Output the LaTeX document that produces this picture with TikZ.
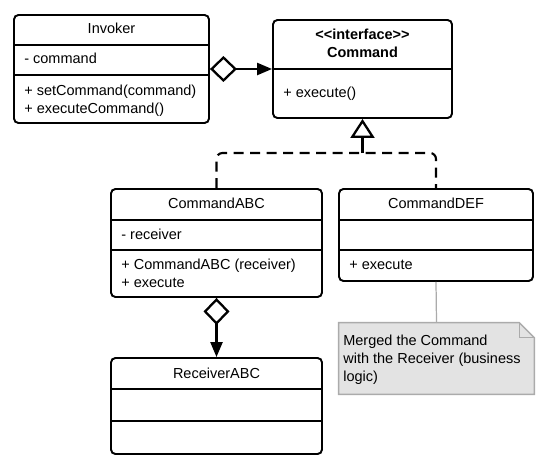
\documentclass[tikz,border=0pt]{standalone}
\usepackage{fontspec}
\setmainfont{Liberation Sans}
\usetikzlibrary{arrows.meta,calc}

\definecolor{notegray}{HTML}{E3E3E3}
\definecolor{noteedge}{HTML}{ABABAB}

\tikzset{
  umlbox/.style={draw,line width=1.1pt,rounded corners=2.5pt,inner sep=0pt},
  sepline/.style={line width=0.8pt},
  txt/.style={anchor=base west,inner sep=0pt},
  ttl/.style={anchor=base,inner sep=0pt},
  aggr/.style={line width=1.3pt,{Diamond[open,length=0.54cm,width=0.52cm]}-{Triangle[length=0.3cm,width=0.24cm]}},
  realize/.style={line width=1.2pt,dash pattern=on 0.2cm off 0.13cm,rounded corners=0.12cm},
  notebox/.style={fill=notegray,draw=noteedge,line width=0.8pt},
  noteline/.style={draw=noteedge,line width=0.7pt}
}

\begin{document}
\begin{tikzpicture}[x=0.02cm,y=-0.02cm,font=\fontsize{8.25}{10}\selectfont]
\useasboundingbox (0,0) rectangle (550,470);

% Invoker
\node[umlbox,minimum width=3.9cm,minimum height=2.16cm] (inv) at (111.5,69) {};
\draw[sepline] (inv.west |- 0,45) -- (inv.east |- 0,45)
(inv.west |- 0,75) -- (inv.east |- 0,75);
\node[ttl] (invT) at (111.5,33) {Invoker};
\node[txt] (invA) at (24,63) {- command};
\node[txt] (invM1) at (24,95) {+ setCommand(command)};
\node[txt] (invM2) at (24,113) {+ executeCommand()};

% Command interface
\node[umlbox,minimum width=3.58cm,minimum height=1.96cm] (cmd) at (362.5,69) {};
\draw[sepline] (cmd.west) -- (cmd.east);
\node[ttl,font=\fontsize{8.25}{10}\selectfont\bfseries] (cmdS) at (362.5,39) {{<}{<}interface{>}{>}};
\node[ttl,font=\fontsize{8.25}{10}\selectfont\bfseries] (cmdT) at (362.5,57) {Command};
\node[txt] (cmdM) at (283,97) {+ execute()};

% CommandABC
\node[umlbox,minimum width=4.22cm,minimum height=2.16cm] (abc) at (216.5,243) {};
\draw[sepline] (abc.west |- 0,220) -- (abc.east |- 0,220)
(abc.west |- 0,250) -- (abc.east |- 0,250);
\node[ttl] (abcT) at (216.5,208) {CommandABC};
\node[txt] (abcA) at (121,239) {- receiver};
\node[txt] (abcM1) at (121,269) {+ CommandABC (receiver)};
\node[txt] (abcM2) at (121,287) {+ execute};

% CommandDEF
\node[umlbox,minimum width=3.88cm,minimum height=1.84cm] (def) at (436,235) {};
\draw[sepline] (def.west |- 0,220) -- (def.east |- 0,220)
(def.west |- 0,250) -- (def.east |- 0,250);
\node[ttl] (defT) at (436,208) {CommandDEF};
\node[txt] (defM) at (349,269) {+ execute};

% ReceiverABC
\node[umlbox,minimum width=4.22cm,minimum height=1.92cm] (rcv) at (216.5,406) {};
\draw[sepline] (rcv.west |- 0,389) -- (rcv.east |- 0,389)
(rcv.west |- 0,421) -- (rcv.east |- 0,421);
\node[ttl] (rcvT) at (216.5,378) {ReceiverABC};

% note
\node[minimum width=3.9cm,minimum height=1.42cm,inner sep=0pt] (note) at (436.5,358.5) {};
\filldraw[notebox] (note.north west) -- ($(note.north east)+(-15,0)$) -- ($(note.north east)+(0,15)$)
-- (note.south east) -- (note.south west) -- cycle;
\draw[noteline] ($(note.north east)+(-15,0)$) -- ($(note.north east)+(-15,15)$) -- ($(note.north east)+(0,15)$);
\node[txt] (noteL1) at (343,345) {Merged the Command};
\node[txt] (noteL2) at (343,363) {with the Receiver (business};
\node[txt] (noteL3) at (343,381) {logic)};
\draw[noteline] (def.south) -- (note.north);

% relations
\draw[aggr] (inv.east) -- (cmd.west);
\draw[aggr] (abc.south) -- (rcv.north);
\coordinate (j) at (362.5,153);
\draw[realize] (abc.north) |- (j) -| (def.north);
\draw[line width=1.3pt,-{Triangle[open,length=0.38cm,width=0.48cm]}] (j) -- (cmd.south);
\end{tikzpicture}
\end{document}
